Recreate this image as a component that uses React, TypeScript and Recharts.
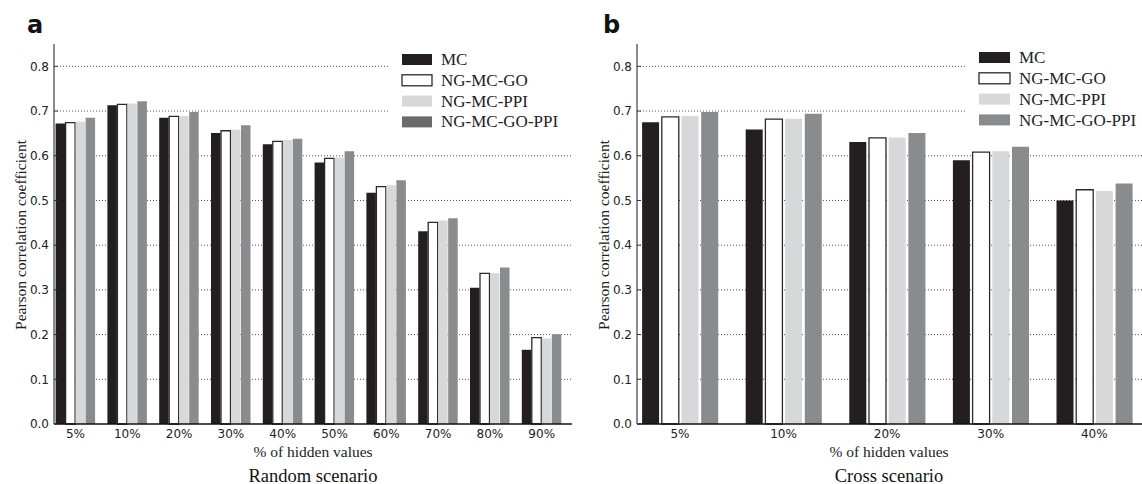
import React from "react";
import { BarChart, Bar, XAxis, YAxis, CartesianGrid } from "recharts";

const SERIES = ["MC", "NG-MC-GO", "NG-MC-PPI", "NG-MC-GO-PPI"];

const randomCategories = ["5%", "10%", "20%", "30%", "40%", "50%", "60%", "70%", "80%", "90%"];
const randomMC = [0.672, 0.713, 0.685, 0.651, 0.626, 0.585, 0.517, 0.431, 0.305, 0.166];
const randomGO = [0.674, 0.715, 0.688, 0.656, 0.632, 0.594, 0.531, 0.451, 0.337, 0.193];
const randomPPI = [0.676, 0.717, 0.689, 0.658, 0.635, 0.596, 0.534, 0.455, 0.337, 0.191];
const randomGOPPI = [0.685, 0.722, 0.698, 0.668, 0.638, 0.61, 0.545, 0.46, 0.35, 0.201];

const crossCategories = ["5%", "10%", "20%", "30%", "40%"];
const crossMC = [0.675, 0.659, 0.631, 0.59, 0.5];
const crossGO = [0.687, 0.682, 0.64, 0.608, 0.524];
const crossPPI = [0.689, 0.683, 0.641, 0.61, 0.521];
const crossGOPPI = [0.698, 0.694, 0.651, 0.62, 0.538];

const yTicks = [0, 0.1, 0.2, 0.3, 0.4, 0.5, 0.6, 0.7, 0.8];
const gridValues = [0.1, 0.2, 0.3, 0.4, 0.5, 0.6, 0.7, 0.8];

// fill, stroke per series
const barStyles = [
  { fill: "#231f20", stroke: "none", sw: 0 },
  { fill: "#ffffff", stroke: "#2a2a2a", sw: 1.3 },
  { fill: "#d7d8da", stroke: "none", sw: 0 },
  { fill: "#8a8b8d", stroke: "none", sw: 0 },
];

const tickStyle = { fontFamily: "DejaVu Sans", fontSize: 12, fill: "#222" };
const serif = "Liberation Serif";

function buildRows(cats: string[], cols: number[][]) {
  return cats.map((c, i) => {
    const row: Record<string, any> = { name: c };
    SERIES.forEach((s, k) => (row[s] = cols[k][i]));
    return row;
  });
}

function gridYs(props: any) {
  const scale = props.yAxis?.scale;
  if (typeof scale === "function") return gridValues.map((v) => scale(v));
  if (scale && typeof scale.map === "function") return gridValues.map((v) => scale.map(v));
  return [];
}

function Panel({
  rows,
  left,
  pad,
  barSize,
  barGap,
}: {
  rows: any[];
  left: number;
  pad: number;
  barSize: number;
  barGap: number;
}) {
  return (
    <div style={{ position: "absolute", left, top: 0 }}>
      <BarChart
        width={600}
        height={484}
        data={rows}
        margin={{ top: 44, right: 28, bottom: 30, left: 0 }}
        barSize={barSize}
        barGap={barGap}
      >
        <CartesianGrid
          horizontal
          vertical={false}
          horizontalCoordinatesGenerator={gridYs}
          stroke="#555"
          strokeDasharray="1 2"
        />
        <XAxis
          dataKey="name"
          height={30}
          padding={{ left: -pad, right: pad }}
          tickLine={false}
          tickSize={0}
          tickMargin={5}
          tick={tickStyle}
          axisLine={{ stroke: "#111", strokeWidth: 1.5 }}
          interval={0}
        />
        <YAxis
          width={54}
          domain={[0, 0.85]}
          ticks={yTicks}
          tickFormatter={(v: number) => v.toFixed(1)}
          tickLine={{ stroke: "#333" }}
          tickSize={-4}
          tickMargin={9}
          tick={tickStyle}
          axisLine={{ stroke: "#666", strokeWidth: 1.5 }}
        />
        {SERIES.map((s, k) => (
          <Bar
            key={s}
            dataKey={s}
            fill={barStyles[k].fill}
            stroke={barStyles[k].stroke}
            strokeWidth={barStyles[k].sw}
            isAnimationActive={false}
          />
        ))}
      </BarChart>
    </div>
  );
}

function Legend({
  x,
  y,
  w,
  h,
  sx,
  sw,
  tx,
  top,
  base,
  lastColor,
}: {
  x: number;
  y: number;
  w: number;
  h: number;
  sx: number;
  sw: number;
  tx: number;
  top: number;
  base: number;
  lastColor: string;
}) {
  return (
    <g>
      <rect x={x} y={y} width={w} height={h} fill="#fff" />
      {SERIES.map((s, k) => (
        <g key={s}>
          <rect
            x={sx}
            y={top + k * 20.8}
            width={sw}
            height={11}
            fill={k === 3 ? lastColor : barStyles[k].fill}
            stroke={k === 1 ? "#2a2a2a" : "none"}
            strokeWidth={k === 1 ? 1.3 : 0}
          />
          <text
            x={tx}
            y={base + k * 20.8}
            style={{ fontFamily: serif, fontSize: 17 }}
            fill="#222"
          >
            {s}
          </text>
        </g>
      ))}
    </g>
  );
}

export default function App() {
  const randomRows = buildRows(randomCategories, [randomMC, randomGO, randomPPI, randomGOPPI]);
  const crossRows = buildRows(crossCategories, [crossMC, crossGO, crossPPI, crossGOPPI]);
  const labelStyle = { fontFamily: serif, fontSize: 15.5 };
  const titleStyle = { fontFamily: serif, fontSize: 18.5 };

  return (
    <div
      style={{
        position: "absolute",
        left: 0,
        top: 0,
        width: 1142,
        height: 484,
        overflow: "hidden",
        background: "#fff",
      }}
    >
      <Panel rows={randomRows} left={0} pad={4.4} barSize={9.5} barGap={0.5} />
      <Panel rows={crossRows} left={583} pad={8.9} barSize={17} barGap={2.7} />
      <svg
        width={1142}
        height={484}
        style={{ position: "absolute", left: 0, top: 0, pointerEvents: "none" }}
      >
        <Legend x={388} y={46} w={190} h={88} sx={402} sw={30} tx={441} top={54} base={65} lastColor="#6b6b6d" />
        <Legend x={966} y={44} w={180} h={88} sx={979} sw={31} tx={1019} top={52} base={63.3} lastColor="#8a8b8d" />

        <text x={27} y={33} style={{ fontFamily: "DejaVu Sans", fontWeight: "bold", fontSize: 24 }} fill="#111">a</text>
        <text x={603} y={33} style={{ fontFamily: "DejaVu Sans", fontWeight: "bold", fontSize: 24 }} fill="#111">b</text>

        <text x={313} y={457} textAnchor="middle" style={labelStyle} fill="#222">% of hidden values</text>
        <text x={889} y={457} textAnchor="middle" style={labelStyle} fill="#222">% of hidden values</text>
        <text x={313} y={481.5} textAnchor="middle" style={titleStyle} fill="#111">Random scenario</text>
        <text x={889} y={481.5} textAnchor="middle" style={titleStyle} fill="#111">Cross scenario</text>

        <text
          x={26}
          y={235}
          transform="rotate(-90 26 235)"
          textAnchor="middle"
          style={labelStyle}
          fill="#222"
        >
          Pearson correlation coefficient
        </text>
        <text
          x={609}
          y={235}
          transform="rotate(-90 609 235)"
          textAnchor="middle"
          style={labelStyle}
          fill="#222"
        >
          Pearson correlation coefficient
        </text>
      </svg>
    </div>
  );
}
